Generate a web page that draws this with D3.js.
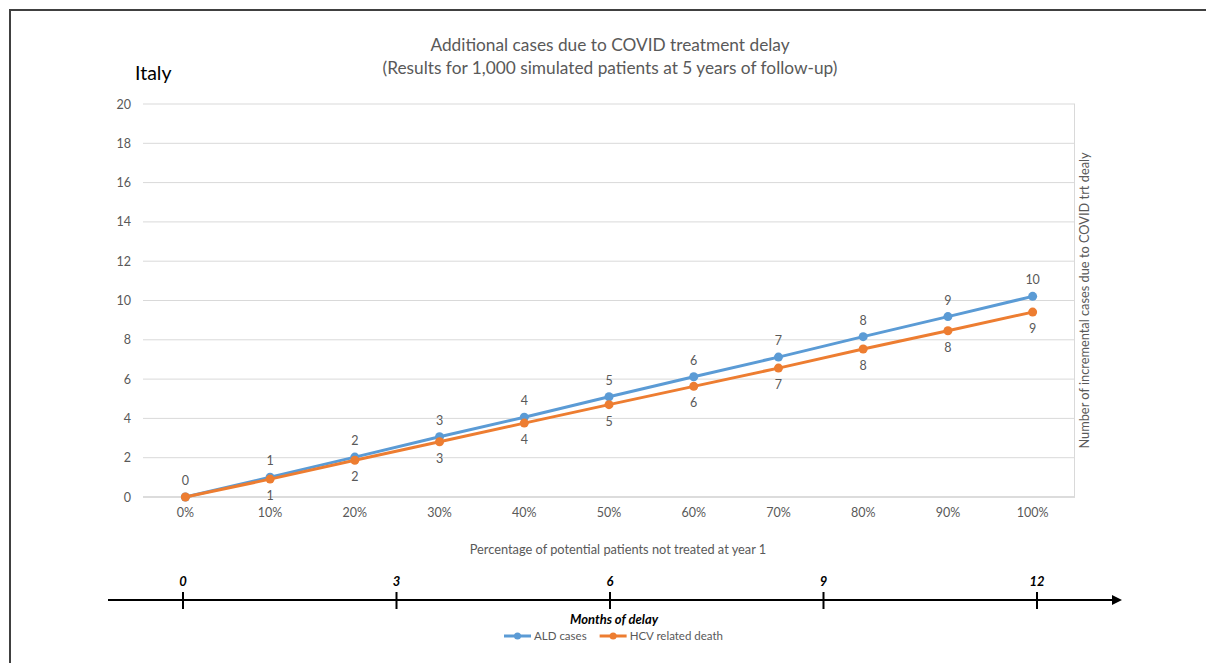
<!DOCTYPE html>
<html>
<head>
<meta charset="utf-8">
<script src="https://cdn.jsdelivr.net/npm/d3@7/dist/d3.min.js"></script>
<style>
  html, body { margin: 0; padding: 0; background: #fff; }
  svg { display: block; font-family: Lato, "Open Sans", sans-serif; }
</style>
</head>
<body>
<svg id="chart" width="1206" height="663"></svg>
<script>
// Share of potential patients left untreated at year 1
const categories = ["0%", "10%", "20%", "30%", "40%", "50%", "60%", "70%", "80%", "90%", "100%"];
// Incremental cases per 1,000 simulated patients, 5-year follow-up
const aldCases = [0, 1.01, 2.03, 3.07, 4.06, 5.10, 6.12, 7.12, 8.16, 9.18, 10.21];
const hcvDeaths = [0, 0.91, 1.87, 2.81, 3.76, 4.70, 5.63, 6.56, 7.53, 8.46, 9.41];
const yTicks = [0, 2, 4, 6, 8, 10, 12, 14, 16, 18, 20];
const monthTicks = [0, 3, 6, 9, 12];

const seriesList = [
  { name: "ALD cases", values: aldCases, color: "#5B9BD5", labelDy: -12 },
  { name: "HCV related death", values: hcvDeaths, color: "#ED7D31", labelDy: 21 }
];

const svg = d3.select("#chart");
const textGray = "#595959";
const small = 12.5;

// outer frame
svg.append("path")
  .attr("d", "M10,663 V10 H1206")
  .attr("fill", "none").attr("stroke", "#404040").attr("stroke-width", 2);

const plot = { left: 143, right: 1075, top: 104, bottom: 497 };

const x = d3.scaleBand().domain(categories).range([plot.left, plot.right]);
const y = d3.scaleLinear().domain([0, 20]).range([plot.bottom, plot.top]);

// gridlines
svg.append("g").selectAll("line").data(yTicks).join("line")
  .attr("x1", plot.left).attr("x2", plot.right)
  .attr("y1", d => y(d)).attr("y2", d => y(d))
  .attr("stroke", d => d === 0 ? "#d0d0d0" : "#d9d9d9")
  .attr("stroke-width", d => d === 0 ? 1.5 : 1);

// secondary axis line on the right
svg.append("line")
  .attr("x1", plot.right - 0.5).attr("x2", plot.right - 0.5)
  .attr("y1", plot.top).attr("y2", plot.bottom)
  .attr("stroke", "#d9d9d9");

// left axis labels
const yAxis = d3.axisLeft(y).tickValues(yTicks).tickSize(0).tickPadding(12);
const gy = svg.append("g").attr("transform", `translate(${plot.left},0)`).call(yAxis);
gy.select(".domain").remove();
gy.selectAll("text").attr("fill", textGray).attr("font-size", small)
  .attr("font-family", "Lato, 'Open Sans', sans-serif");

// category axis labels
const xAxis = d3.axisBottom(x).tickSize(0).tickPadding(11);
const gx = svg.append("g").attr("transform", `translate(0,${plot.bottom})`).call(xAxis);
gx.select(".domain").remove();
gx.selectAll("text").attr("fill", textGray).attr("font-size", small)
  .attr("font-family", "Lato, 'Open Sans', sans-serif");

// series lines, markers and value labels
const line = d3.line()
  .x((d, i) => x(categories[i]) + x.bandwidth() / 2)
  .y(d => y(d));

seriesList.forEach(s => {
  const g = svg.append("g");
  g.append("path").datum(s.values)
    .attr("d", line).attr("fill", "none")
    .attr("stroke", s.color).attr("stroke-width", 3)
    .attr("stroke-linejoin", "round").attr("stroke-linecap", "round");
  g.selectAll("circle").data(s.values).join("circle")
    .attr("cx", (d, i) => x(categories[i]) + x.bandwidth() / 2)
    .attr("cy", d => y(d)).attr("r", 4.5).attr("fill", s.color);
});

seriesList.forEach((s, si) => {
  svg.append("g").selectAll("text")
    .data(s.values.map((v, i) => ({ v, i })).filter(d => !(si === 1 && d.i === 0)))
    .join("text")
    .attr("x", d => x(categories[d.i]) + x.bandwidth() / 2)
    .attr("y", d => y(d.v) + s.labelDy)
    .attr("text-anchor", "middle")
    .attr("fill", textGray).attr("font-size", small)
    .text(d => d3.format(".0f")(d.v));
});

// titles
const title = svg.append("text").attr("text-anchor", "middle")
  .attr("fill", textGray).attr("font-size", 17.3);
title.append("tspan").attr("x", 610).attr("y", 51).text("Additional cases due to COVID treatment delay");
title.append("tspan").attr("x", 610).attr("y", 74).text("(Results for 1,000 simulated patients at 5 years of follow-up)");

svg.append("text").attr("x", 135).attr("y", 80)
  .attr("fill", "#000").attr("font-size", 19.5).text("Italy");

svg.append("text").attr("x", 618).attr("y", 554)
  .attr("text-anchor", "middle").attr("fill", textGray).attr("font-size", 12.8)
  .text("Percentage of potential patients not treated at year 1");

svg.append("text")
  .attr("transform", `translate(1089,${(plot.top + plot.bottom) / 2}) rotate(-90)`)
  .attr("text-anchor", "middle").attr("fill", textGray).attr("font-size", 12.8)
  .text("Number of incremental cases due to COVID trt dealy");

// months-of-delay timeline
const m = d3.scaleLinear().domain([0, 12]).range([183, 1037]);
const axisY = 600;
svg.append("defs").append("marker")
  .attr("id", "arrow").attr("viewBox", "0 0 10 10")
  .attr("refX", 2).attr("refY", 5)
  .attr("markerWidth", 5).attr("markerHeight", 5)
  .attr("orient", "auto")
  .append("path").attr("d", "M0,0 L10,5 L0,10 Z").attr("fill", "#000");

svg.append("line")
  .attr("x1", 108).attr("x2", 1114).attr("y1", axisY).attr("y2", axisY)
  .attr("stroke", "#000").attr("stroke-width", 2)
  .attr("marker-end", "url(#arrow)");

const mt = svg.append("g");
mt.selectAll("line").data(monthTicks).join("line")
  .attr("x1", d => m(d)).attr("x2", d => m(d))
  .attr("y1", axisY - 8).attr("y2", axisY + 9)
  .attr("stroke", "#000").attr("stroke-width", 2);
mt.selectAll("text").data(monthTicks).join("text")
  .attr("x", d => m(d)).attr("y", axisY - 14)
  .attr("text-anchor", "middle").attr("font-size", 13)
  .attr("font-weight", "bold").attr("font-style", "italic").attr("fill", "#000")
  .text(d => d);

svg.append("text").attr("x", 614).attr("y", axisY + 24)
  .attr("text-anchor", "middle").attr("font-size", 13)
  .attr("font-weight", "bold").attr("font-style", "italic").attr("fill", "#000")
  .text("Months of delay");

// legend
const legend = svg.append("g").attr("transform", "translate(504,636)");
let lx = 0;
seriesList.forEach(s => {
  const item = legend.append("g").attr("transform", `translate(${lx},0)`);
  item.append("line").attr("x1", 0).attr("x2", 27).attr("y1", 0).attr("y2", 0)
    .attr("stroke", s.color).attr("stroke-width", 3);
  item.append("circle").attr("cx", 13.5).attr("cy", 0).attr("r", 3.5).attr("fill", s.color);
  const t = item.append("text").attr("x", 30).attr("y", 4)
    .attr("fill", textGray).attr("font-size", 11.5).text(s.name);
  lx += 30 + t.node().getComputedTextLength() + 13;
});
</script>
</body>
</html>
